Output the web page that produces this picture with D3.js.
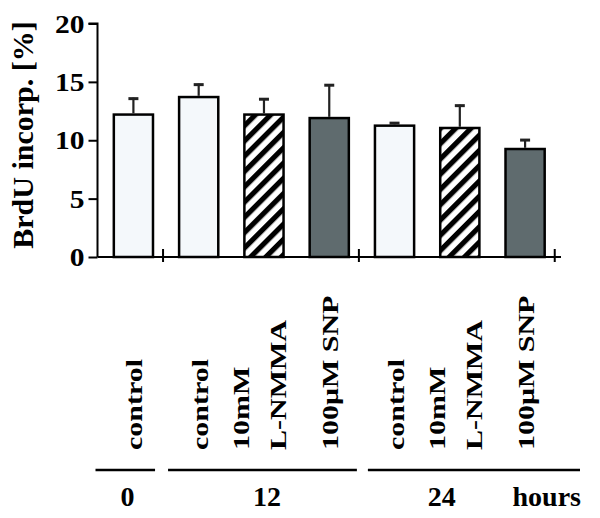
<!DOCTYPE html>
<html>
<head>
<meta charset="utf-8">
<script src="https://cdn.jsdelivr.net/npm/d3@7"></script>
<style>
  html, body { margin: 0; padding: 0; background: #fff; }
  svg { display: block; }
  svg text { font-family: "Liberation Serif"; font-weight: bold; fill: #000; }
</style>
</head>
<body>
<svg id="chart" width="600" height="518"></svg>
<script>
// ---- data ----
const categories = ["0h control", "12h control", "12h L-NMMA", "12h SNP", "24h control", "24h L-NMMA", "24h SNP"];
const labelLines = [["control"], ["control"], ["10mM", "L-NMMA"], ["100\u03BCM SNP"], ["control"], ["10mM", "L-NMMA"], ["100\u03BCM SNP"]];
const treatments = ["control", "control", "lnmma", "snp", "control", "lnmma", "snp"];
const values = [12.2, 13.7, 12.2, 11.9, 11.25, 11.05, 9.25];
const errors = [1.45, 1.15, 1.4, 2.9, 0.3, 2.0, 0.85];
const groupLabels = ["0", "12", "24"];
const groupMembers = [[0], [1, 2, 3], [4, 5, 6]];
const yTicks = [0, 5, 10, 15, 20];
const unitLabel = "hours";
const yTitle = "BrdU incorp. [%]";

// ---- layout ----
const svg = d3.select("#chart");
const FONT = "'Liberation Serif'";
const x0 = 97.5, x1 = 561, yTop = 23.5, yBot = 257;
const x = d3.scaleBand().domain(categories).range([x0, x1]).paddingInner(0.4).paddingOuter(0.25);
const y = d3.scaleLinear().domain([0, 20]).range([yBot, yTop]);
const fills = { control: "#f4f8fb", lnmma: "url(#hatch)", snp: "#5f6b6e" };

const defs = svg.append("defs");
const pat = defs.append("pattern").attr("id", "hatch").attr("patternUnits", "userSpaceOnUse")
  .attr("width", 10.8).attr("height", 10.8).attr("patternTransform", "rotate(45)");
pat.append("rect").attr("width", 10.8).attr("height", 10.8).attr("fill", "#fff");
pat.append("rect").attr("width", 5.2).attr("height", 10.8).attr("fill", "#000");

// y axis
const yAxis = d3.axisLeft(y).tickValues(yTicks).tickSize(9).tickPadding(4).tickFormat(d3.format("d"));
const gy = svg.append("g").attr("transform", `translate(${x0},0)`).call(yAxis)
  .attr("font-family", FONT).attr("font-size", 25).attr("font-weight", "bold");
gy.select(".domain").attr("stroke", "#000").attr("stroke-width", 2).attr("d", `M-9,${yTop}H0V${yBot}`);
gy.selectAll(".tick line").attr("stroke", "#000").attr("stroke-width", 2);
gy.selectAll(".tick text")
  .style("font-family", FONT).style("font-weight", "bold").style("font-size", "25px")
  .attr("fill", "#000").attr("x", 0).attr("dy", "0.34em")
  .attr("transform", "translate(-13,0) scale(1.18,1)");

// y title
svg.append("text")
  .attr("transform", `translate(33,135) rotate(-90)`)
  .attr("text-anchor", "middle").style("font-family", FONT).style("font-size", "30px").text(yTitle);

// bars
const bw = x.bandwidth();
svg.selectAll("rect.bar").data(categories).join("rect").attr("class", "bar")
  .attr("x", d => x(d)).attr("y", (d, i) => y(values[i]))
  .attr("width", bw).attr("height", (d, i) => y(0) - y(values[i]))
  .attr("fill", (d, i) => fills[treatments[i]])
  .attr("stroke", "#000").attr("stroke-width", 2.5);

// error bars
const eb = svg.append("g").attr("stroke", "#222");
categories.forEach((c, i) => {
  const cx = x(c) + bw / 2;
  eb.append("line").attr("x1", cx).attr("x2", cx).attr("y1", y(values[i]) - 1.2).attr("y2", y(values[i] + errors[i])).attr("stroke-width", 2.2);
  eb.append("line").attr("x1", cx - 5).attr("x2", cx + 5).attr("y1", y(values[i] + errors[i]) + 1).attr("y2", y(values[i] + errors[i]) + 1).attr("stroke-width", 3);
});

// x axis line and group separator ticks
const step = x.step();
const boundaries = groupMembers.map(g => x(categories[g[g.length - 1]]) + bw + (step - bw) / 2);
svg.append("line").attr("x1", x0).attr("x2", x1).attr("y1", yBot).attr("y2", yBot).attr("stroke", "#000").attr("stroke-width", 2);
boundaries.forEach(b => {
  svg.append("line").attr("x1", b - 3).attr("x2", b - 3).attr("y1", yBot - 8).attr("y2", yBot + 5).attr("stroke", "#000").attr("stroke-width", 2);
});

// category labels (rotated)
const labelBase = 450;
categories.forEach((c, i) => {
  const cx = x(c) + bw / 2;
  const lines = labelLines[i];
  const offs = lines.length === 1 ? [9] : [-15, 22];
  lines.forEach((t, j) => {
    svg.append("text")
      .attr("transform", `translate(${cx + offs[j]},${labelBase}) rotate(-90) scale(1.25,1)`)
      .attr("text-anchor", "start").style("font-family", FONT).style("font-size", "24px").text(t);
  });
});

// group lines and labels
const lineY = 470;
const starts = [x0 - 2, boundaries[0] + 2, boundaries[1] + 6];
const ends = [boundaries[0] - 11, boundaries[1] - 5, 580];
groupMembers.forEach((g, k) => {
  svg.append("line").attr("x1", starts[k]).attr("x2", ends[k]).attr("y1", lineY).attr("y2", lineY)
    .attr("stroke", "#000").attr("stroke-width", 2.5);
});
const glx = [x(categories[0]) + bw / 2 - 6, x(categories[2]) + bw / 2 + 3, x(categories[5]) + bw / 2 - 18];
groupLabels.forEach((t, k) => {
  svg.append("text").attr("x", glx[k]).attr("y", 506).attr("text-anchor", "middle")
    .style("font-family", FONT).style("font-size", "28px").text(t);
});
svg.append("text").attr("x", 581).attr("y", 506).attr("text-anchor", "end")
  .style("font-family", FONT).style("font-size", "28px").text(unitLabel);
</script>
</body>
</html>
